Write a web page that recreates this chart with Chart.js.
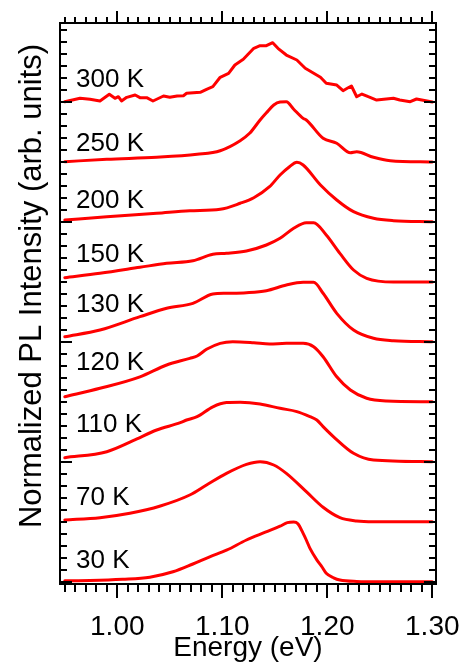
<!DOCTYPE html>
<html><head><meta charset="utf-8">
<script src="https://cdn.jsdelivr.net/npm/chart.js@4/dist/chart.umd.min.js"></script>
<style>html,body{margin:0;padding:0;background:#fff;}#wrap{width:462px;height:664px;}</style>
</head><body><div id="wrap"><canvas id="c" width="462" height="664"></canvas></div>
<script>
// ---- data (energy in eV, normalized intensity) ----
const temperatures = ['30 K','70 K','110 K','120 K','130 K','150 K','200 K','250 K','300 K'];
const offsets = [0,1,2,3,4,5,6,7,8];

const e30  = [0.950,0.974,1.005,1.031,1.053,1.072,1.088,1.104,1.123,1.141,1.155,1.162,1.168,1.172,1.177,1.180,1.1835,1.190,1.195,1.199,1.206,1.212,1.228,1.250,1.300];
const i30  = [0.02,0.025,0.045,0.08,0.17,0.30,0.42,0.53,0.70,0.83,0.93,0.99,1.0,0.97,0.81,0.70,0.56,0.37,0.25,0.145,0.07,0.033,0.01,0.005,0.005];

const e70  = [0.950,0.9835,1.012,1.041,1.069,1.085,1.104,1.123,1.136,1.149,1.161,1.180,1.196,1.212,1.228,1.244,1.300];
const i70  = [0.033,0.072,0.145,0.267,0.45,0.617,0.81,0.96,1.005,0.95,0.81,0.505,0.245,0.072,0.017,0.005,0.005];

const e110 = [0.950,0.990,1.015,1.0375,1.060,1.066,1.076,1.091,1.104,1.117,1.136,1.155,1.171,1.1835,1.190,1.196,1.206,1.225,1.244,1.300];
const i110 = [0.072,0.172,0.355,0.533,0.655,0.70,0.755,0.92,0.99,0.995,0.967,0.895,0.84,0.755,0.70,0.59,0.42,0.145,0.033,0.005];

const e120 = [0.950,0.9835,1.0216,1.047,1.069,1.076,1.085,1.098,1.110,1.130,1.145,1.161,1.177,1.187,1.196,1.209,1.222,1.2375,1.2566,1.300];
const i120 = [0.088,0.228,0.42,0.617,0.728,0.767,0.878,0.978,1.005,0.988,0.967,0.978,0.978,0.922,0.755,0.42,0.2,0.062,0.017,0.005];

const e130 = [0.950,0.9835,1.0216,1.047,1.072,1.091,1.104,1.123,1.142,1.161,1.177,1.187,1.196,1.209,1.225,1.244,1.263,1.300];
const i130 = [0.088,0.2,0.422,0.562,0.645,0.8,0.812,0.822,0.855,0.95,0.995,0.995,0.812,0.478,0.2,0.062,0.022,0.005];

const e150 = [0.950,0.9835,1.0216,1.047,1.072,1.091,1.104,1.123,1.142,1.155,1.168,1.180,1.187,1.199,1.212,1.225,1.2375,1.263,1.300];
const i150 = [0.072,0.145,0.245,0.312,0.355,0.462,0.478,0.517,0.617,0.728,0.895,0.988,0.988,0.783,0.478,0.2,0.062,0.0,0.0];

const e200 = [0.950,0.990,1.0375,1.069,1.098,1.117,1.130,1.145,1.155,1.164,1.171,1.177,1.1935,1.209,1.225,1.244,1.263,1.300];
const i200 = [0.033,0.088,0.145,0.188,0.212,0.312,0.405,0.588,0.783,0.922,0.995,0.95,0.617,0.367,0.172,0.062,0.022,0.005];

const e250 = [0.950,0.990,1.0375,1.076,1.098,1.117,1.126,1.136,1.142,1.149,1.155,1.161,1.168,1.177,1.180,1.196,1.209,1.222,1.228,1.244,1.260,1.300];
const i250 = [0.005,0.045,0.078,0.128,0.188,0.355,0.478,0.70,0.82,0.95,1.0,1.005,0.88,0.727,0.70,0.395,0.312,0.155,0.172,0.078,0.022,0.0];

const e300 = [0.950,0.9645,0.974,0.9835,0.9924,0.9978,1.001,1.004,1.009,1.017,1.0216,1.028,1.034,1.044,1.050,1.057,1.063,1.066,1.079,1.085,1.091,1.098,1.106,1.112,1.120,1.130,1.136,1.142,1.148,1.153,1.161,1.171,1.179,1.1935,1.199,1.209,1.215,1.219,1.223,1.228,1.233,1.239,1.247,1.263,1.269,1.279,1.285,1.300];
const i300 = [0.005,0.062,0.045,0.017,0.128,0.062,0.088,0.017,0.078,0.117,0.072,0.072,0.017,0.1,0.078,0.1,0.105,0.145,0.162,0.212,0.255,0.412,0.478,0.617,0.712,0.895,0.938,0.938,0.988,0.895,0.783,0.7,0.562,0.412,0.312,0.283,0.188,0.228,0.267,0.088,0.133,0.088,0.033,0.062,0.033,0.005,0.05,0.0];

const energies = [e30,e70,e110,e120,e130,e150,e200,e250,e300];
const intensities = [i30,i70,i110,i120,i130,i150,i200,i250,i300];

// label anchor (energy, height above the curve's offset)
const labelEnergy = 0.9607;
const labelLift = [0.228,0.283,0.505,0.533,0.505,0.338,0.228,0.183,0.245];

// axis ticks and titles
const xTickValues = [1.00,1.10,1.20,1.30];
const xTickLabels = ['1.00','1.10','1.20','1.30'];
const xMinorStep = 0.01, xMinorFrom = 0.95, xMinorTo = 1.30;
const yMinorStep = 0.2, yMinorFrom = 0, yMinorTo = 9.2, yMajorEvery = 2;
const xTitle = 'Energy (eV)';
const yTitle = 'Normalized PL Intensity (arb. units)';

const FONT = "'Liberation Sans', Arial, Helvetica, sans-serif";
const RED = '#ff0000';

const datasets = temperatures.map((t, k) => ({
  label: t,
  data: energies[k].map((x, j) => ({x: x, y: intensities[k][j] + offsets[k]})),
  borderColor: RED,
  borderWidth: 3,
  pointRadius: 0,
  fill: false,
  cubicInterpolationMode: k === 8 ? 'default' : 'monotone',
  tension: 0,
  borderJoinStyle: 'round',
  borderCapStyle: 'round'
}));

const frameTicks = {
  id: 'frameTicks',
  afterDatasetsDraw(chart) {
    const {ctx, chartArea: a, scales: {x, y}} = chart;
    ctx.save();
    ctx.strokeStyle = '#000';
    ctx.lineWidth = 2;
    ctx.lineCap = 'butt';
    ctx.beginPath();
    const nx = Math.round((xMinorTo - xMinorFrom) / xMinorStep);
    for (let i = 0; i <= nx; i++) {
      const v = xMinorFrom + i * xMinorStep;
      const major = xTickValues.some(m => Math.abs(m - v) < 1e-6);
      const px = Math.round(x.getPixelForValue(v));
      ctx.moveTo(px, a.bottom); ctx.lineTo(px, a.bottom + (major ? 14 : 8));
      ctx.moveTo(px, a.top); ctx.lineTo(px, a.top - (major ? 12 : 6));
    }
    const ny = Math.round((yMinorTo - yMinorFrom) / yMinorStep);
    for (let i = 0; i <= ny; i++) {
      const v = yMinorFrom + i * yMinorStep;
      const major = Math.abs(v / yMajorEvery - Math.round(v / yMajorEvery)) < 1e-6;
      const py = Math.round(y.getPixelForValue(v));
      ctx.moveTo(a.left, py); ctx.lineTo(a.left + (major ? 12 : 7), py);
      ctx.moveTo(a.right, py); ctx.lineTo(a.right - (major ? 12 : 7), py);
    }
    ctx.stroke();
    ctx.strokeRect(a.left, a.top, a.right - a.left, a.bottom - a.top);
    // curve labels
    ctx.fillStyle = '#000';
    ctx.font = '26px ' + FONT;
    ctx.textAlign = 'left';
    ctx.textBaseline = 'alphabetic';
    temperatures.forEach((t, k) => {
      ctx.fillText(t, x.getPixelForValue(labelEnergy), y.getPixelForValue(offsets[k] + labelLift[k]));
    });
    // y-axis title
    ctx.translate(41, 286);
    ctx.rotate(-Math.PI / 2);
    ctx.font = '31px ' + FONT;
    ctx.textAlign = 'center';
    ctx.fillText(yTitle, 0, 0);
    ctx.restore();
  }
};

new Chart(document.getElementById('c'), {
  type: 'line',
  data: {datasets},
  options: {
    responsive: false,
    animation: false,
    devicePixelRatio: 1,
    layout: {padding: {left: 0, right: 26, top: 23, bottom: 0}},
    plugins: {legend: {display: false}, tooltip: {enabled: false}},
    scales: {
      x: {
        type: 'linear',
        min: 0.94543, max: 1.30353,
        afterBuildTicks: s => { s.ticks = xTickValues.map(v => ({value: v})); },
        afterFit: s => { s.height = 80; s.paddingLeft = 0; s.paddingRight = 0; },
        grid: {display: false, drawTicks: false},
        border: {display: false},
        ticks: {
          autoSkip: false, maxRotation: 0,
          padding: 26,
          color: '#000',
          font: {family: FONT, size: 28},
          callback: (v) => xTickLabels[xTickValues.findIndex(m => Math.abs(m - v) < 1e-6)]
        },
        title: {
          display: true, text: xTitle, color: '#000',
          font: {family: FONT, size: 28, lineHeight: 1.1},
          padding: {top: 0, bottom: 0}
        }
      },
      y: {
        type: 'linear',
        min: -0.0333, max: 9.3167,
        afterFit: s => { s.width = 60; s.paddingTop = 0; s.paddingBottom = 0; },
        grid: {display: false, drawTicks: false},
        border: {display: false},
        ticks: {display: false},
        title: {display: false}
      }
    }
  },
  plugins: [frameTicks]
});
</script></body></html>
